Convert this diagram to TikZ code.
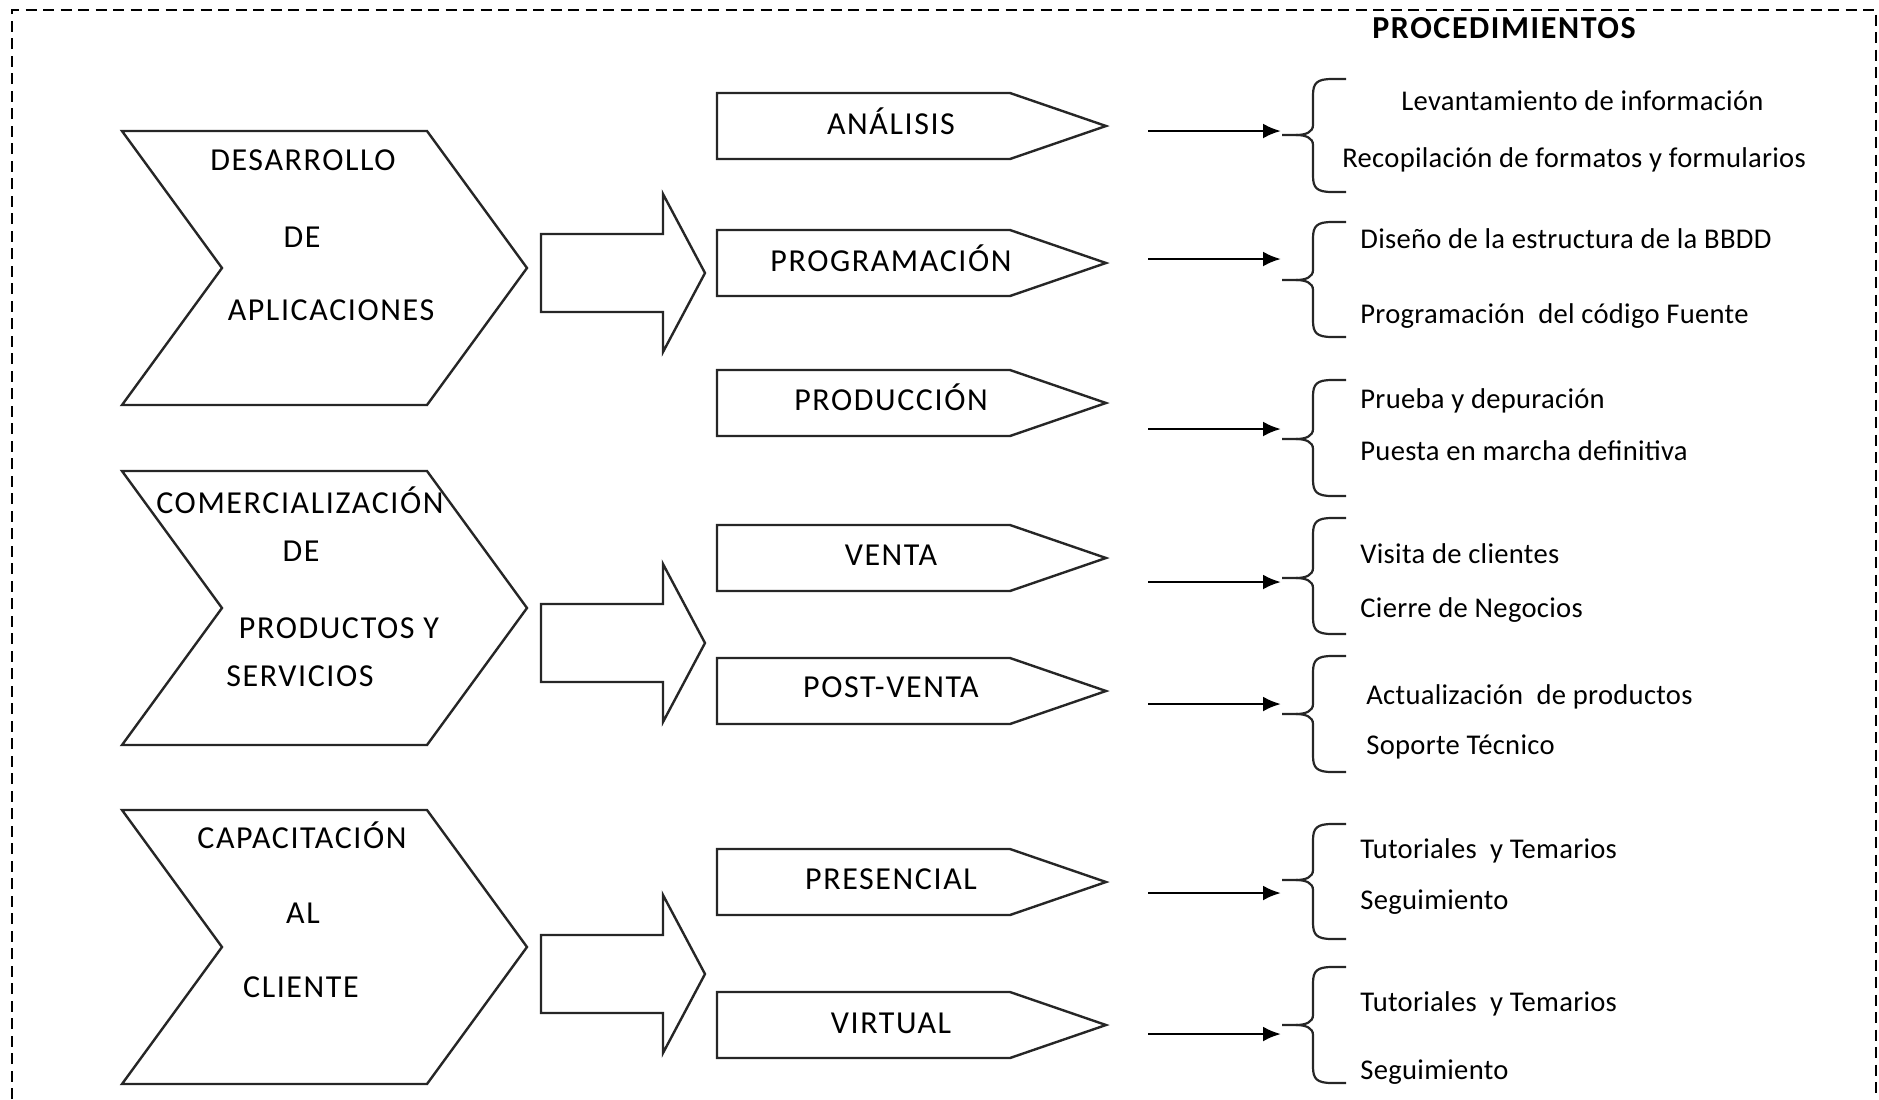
\documentclass[tikz,border=0pt]{standalone}
\usepackage{fontspec}
\setmainfont{Carlito}
\newfontfamily\capsfont[LetterSpace=5]{Carlito}
\newfontfamily\procfont[LetterSpace=1]{Carlito}
\usetikzlibrary{arrows.meta}
\begin{document}
\begin{tikzpicture}[x=0.5pt,y=-0.5pt,
  shapeline/.style={draw=black!85, line width=1.2pt, line join=miter, fill=white},
  caplabel/.style={font=\capsfont\fontsize{16}{19}\selectfont, inner sep=0pt, text height=0.63em, text depth=0pt, anchor=center},
  headlabel/.style={font=\capsfont\fontsize{16}{19}\selectfont\bfseries, inner sep=0pt, text height=0.63em, text depth=0pt, anchor=center},
  proc/.style={font=\procfont\fontsize{14.3}{17}\selectfont, inner sep=0pt, text height=0.63em, text depth=0pt, anchor=west},
  conn/.style={draw=black, line width=1.4pt, -{Latex[length=9pt,width=7.5pt]}},
  bracestyle/.style={draw=black!85, line width=1.1pt},
  frame/.style={draw=black, line width=1pt, dash pattern=on 5.5pt off 3.25pt}]

\useasboundingbox (0,0) rectangle (1879,1099);

% dashed frame (open at the bottom)
\draw[frame] (12,1099) -- (12,10) -- (1876,10) -- (1876,1099);

\node[headlabel] (proc) at (1504,32) {PROCEDIMIENTOS};

% large chevrons
\foreach \t in {131,471,810}{
  \draw[shapeline] (122,\t) -- (427,\t) -- (527,\t+137) -- (427,\t+274)
    -- (122,\t+274) -- (222,\t+137) -- cycle;
}
\node[caplabel] (d1) at (303,164) {DESARROLLO};
\node[caplabel] (d2) at (302,241) {DE};
\node[caplabel] (d3) at (331,314) {APLICACIONES};
\node[caplabel] (c1) at (300,507) {COMERCIALIZACIÓN};
\node[caplabel] (c2) at (301,555) {DE};
\node[caplabel] (c3) at (339,632) {PRODUCTOS Y};
\node[caplabel] (c4) at (300,680) {SERVICIOS};
\node[caplabel] (k1) at (302,842) {CAPACITACIÓN};
\node[caplabel] (k2) at (303,917) {AL};
\node[caplabel] (k3) at (301,991) {CLIENTE};

% block arrows
\foreach \c in {273,643,974}{
  \draw[shapeline] (541,\c-39) -- (663,\c-39) -- (663,\c-79) -- (705,\c)
    -- (663,\c+79) -- (663,\c+39) -- (541,\c+39) -- cycle;
}

% pentagon arrows
\foreach \t in {93,230,370,525,658,849,992}{
  \draw[shapeline] (717,\t) -- (1010,\t) -- (1106,\t+33) -- (1010,\t+66)
    -- (717,\t+66) -- cycle;
}
\node[caplabel] (ana) at (891,128) {ANÁLISIS};
\node[caplabel] (prog) at (891,265) {PROGRAMACIÓN};
\node[caplabel] (prod) at (891,404) {PRODUCCIÓN};
\node[caplabel] (vent) at (891,559) {VENTA};
\node[caplabel] (post) at (891,691) {POST-VENTA};
\node[caplabel] (pres) at (891,883) {PRESENCIAL};
\node[caplabel] (virt) at (891,1027) {VIRTUAL};

% braces
\foreach \t/\m/\b in {79/135/192, 222/280/337, 380/439/496, 518/578/634,
                      656/714/772, 824/880/939, 967/1025/1083}{
  \draw[bracestyle] (1346,\t) -- (1332,\t) .. controls (1317,\t) and (1313,\t+4) .. (1313,\t+16)
    -- (1313,\m-10) .. controls (1313,\m-3) and (1306,\m) .. (1296,\m) -- (1282,\m);
  \draw[bracestyle] (1296,\m) .. controls (1306,\m) and (1313,\m+3) .. (1313,\m+10)
    -- (1313,\b-16) .. controls (1313,\b-4) and (1317,\b) .. (1332,\b) -- (1346,\b);
}

% connectors
\foreach \y [count=\i] in {131,259,429,582,704,893,1034}{
  \coordinate (s\i) at (1148,\y);
  \coordinate (e\i) at (1281,\y);
  \draw[conn] (s\i) -- (e\i);
}

% procedure lists
\node[proc] (p1) at (1401,104) {Levantamiento de información};
\node[proc] (p2) at (1342,161) {Recopilación de formatos y formularios};
\node[proc] (p3) at (1360,242) {Diseño de la estructura de la BBDD};
\node[proc] (p4) at (1360,317) {Programación\ \ del código Fuente};
\node[proc] (p5) at (1360,402) {Prueba y depuración};
\node[proc] (p6) at (1360,454) {Puesta en marcha definitiva};
\node[proc] (p7) at (1360,557) {Visita de clientes};
\node[proc] (p8) at (1360,611) {Cierre de Negocios};
\node[proc] (p9) at (1366,698) {Actualización\ \ de productos};
\node[proc] (p10) at (1366,748) {Soporte Técnico};
\node[proc] (p11) at (1360,852) {Tutoriales\ \ y Temarios};
\node[proc] (p12) at (1360,903) {Seguimiento};
\node[proc] (p13) at (1360,1005) {Tutoriales\ \ y Temarios};
\node[proc] (p14) at (1360,1073) {Seguimiento};
\end{tikzpicture}
\end{document}
